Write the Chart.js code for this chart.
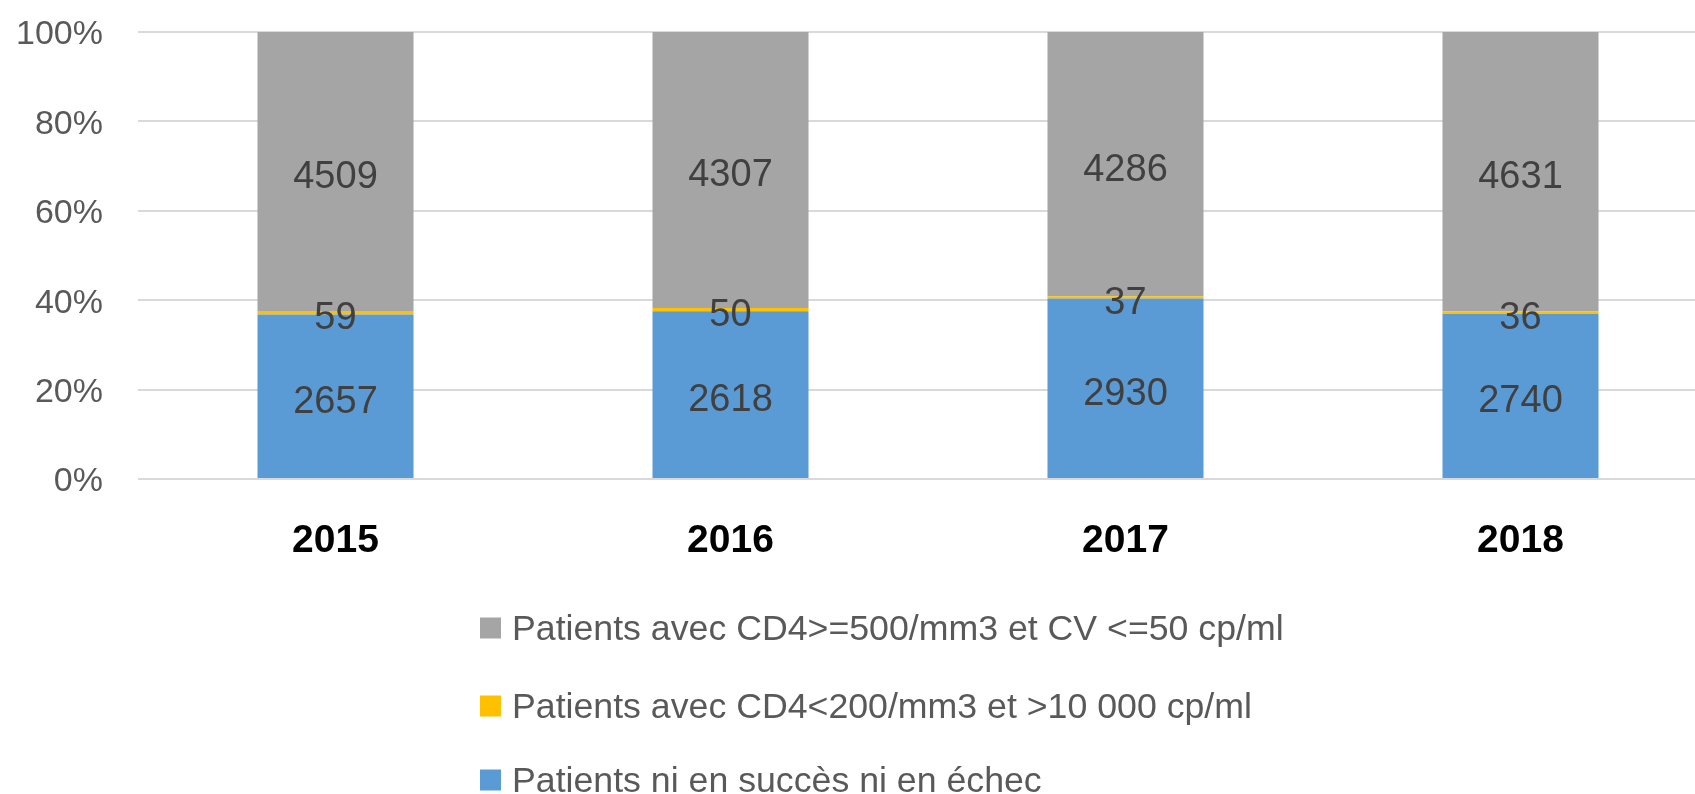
<!DOCTYPE html>
<html>
<head>
<meta charset="utf-8">
<script src="https://cdn.jsdelivr.net/npm/chart.js@4.4.1/dist/chart.umd.min.js"></script>
<style>
  html, body { margin: 0; padding: 0; background: #fff; overflow: hidden; }
  #wrap { width: 1718px; height: 794px; position: relative; }
</style>
</head>
<body>
<div id="wrap"><canvas id="plot"></canvas></div>
<script>
// counts per year, the chart shows them as share of the yearly total
const years = ['2015', '2016', '2017', '2018'];
const neitherCounts = [2657, 2618, 2930, 2740];
const failureCounts = [59, 50, 37, 36];
const successCounts = [4509, 4307, 4286, 4631];
const yTicks = [0, 20, 40, 60, 80, 100];

const seriesNames = [
    'Patients ni en succès ni en échec',
    'Patients avec CD4<200/mm3 et >10 000 cp/ml',
    'Patients avec CD4>=500/mm3 et CV <=50 cp/ml'
];
const seriesColors = ['#5B9BD5', '#FFC000', '#A5A5A5'];

const totals = years.map((y, i) => neitherCounts[i] + failureCounts[i] + successCounts[i]);
const toPct = (arr) => arr.map((v, i) => v / totals[i] * 100);

const countsBySeries = [neitherCounts, failureCounts, successCounts];

const barLabels = {
    id: 'barLabels',
    afterDatasetsDraw(chart) {
        const ctx = chart.ctx;
        ctx.save();
        ctx.font = '38px "Liberation Sans", Arial, sans-serif';
        ctx.fillStyle = '#404040';
        ctx.textAlign = 'center';
        ctx.textBaseline = 'middle';
        chart.data.datasets.forEach((ds, di) => {
            const meta = chart.getDatasetMeta(di);
            meta.data.forEach((bar, i) => {
                const yMid = (bar.y + bar.base) / 2;
                ctx.fillText(String(countsBySeries[di][i]), bar.x, yMid + 6);
            });
        });
        ctx.restore();
    }
};

// one legend entry per row, top entry is the top of the stack
const rowLegend = {
    id: 'rowLegend',
    afterDraw(chart) {
        const ctx = chart.ctx;
        const rowsY = [628, 706, 780];
        const boxX = 480, box = 21, textX = 512;
        ctx.save();
        ctx.font = '35.7px "Liberation Sans", Arial, sans-serif';
        ctx.textAlign = 'left';
        ctx.textBaseline = 'middle';
        const order = chart.data.datasets.map((d, i) => i).reverse();
        order.forEach((di, r) => {
            const ds = chart.data.datasets[di];
            ctx.fillStyle = ds.backgroundColor;
            ctx.fillRect(boxX, rowsY[r] - box / 2, box, box);
            ctx.fillStyle = '#595959';
            ctx.fillText(ds.label, textX, rowsY[r] + 2);
        });
        ctx.restore();
    }
};

const noScalePad = (scale) => {
    scale.paddingTop = 0;
    scale.paddingBottom = 0;
    scale.paddingLeft = 0;
    scale.paddingRight = 0;
};

const ctx = document.getElementById('plot').getContext('2d');
const chart = new Chart(ctx, {
    type: 'bar',
    data: {
        labels: years,
        datasets: seriesNames.map((name, i) => ({
            label: name,
            data: toPct(countsBySeries[i]),
            backgroundColor: seriesColors[i],
            borderWidth: 0,
            categoryPercentage: 1,
            barPercentage: 0.395
        }))
    },
    options: {
        responsive: true,
        maintainAspectRatio: false,
        animation: false,
        layout: {
            padding: { top: 32, left: 0, right: 0, bottom: 0 }
        },
        scales: {
            x: {
                stacked: true,
                grid: { display: false },
                border: { display: false },
                ticks: {
                    color: '#000000',
                    padding: 31,
                    font: { family: '"Liberation Sans", Arial, sans-serif', size: 39, weight: 'bold' }
                },
                afterFit: (scale) => { scale.height = 315; noScalePad(scale); }
            },
            y: {
                stacked: true,
                min: 0,
                max: 100,
                afterBuildTicks: (scale) => { scale.ticks = yTicks.map(v => ({ value: v })); },
                grid: { color: '#D9D9D9', lineWidth: 2, drawTicks: false },
                border: { display: false },
                ticks: {
                    color: '#595959',
                    padding: 35,
                    labelOffset: 3,
                    font: { family: '"Liberation Sans", Arial, sans-serif', size: 34 },
                    callback: (v) => v + '%'
                },
                afterFit: (scale) => { scale.width = 138; noScalePad(scale); }
            }
        },
        plugins: {
            legend: { display: false },
            tooltip: { enabled: false }
        }
    },
    plugins: [barLabels, rowLegend]
});
</script>
</body>
</html>
